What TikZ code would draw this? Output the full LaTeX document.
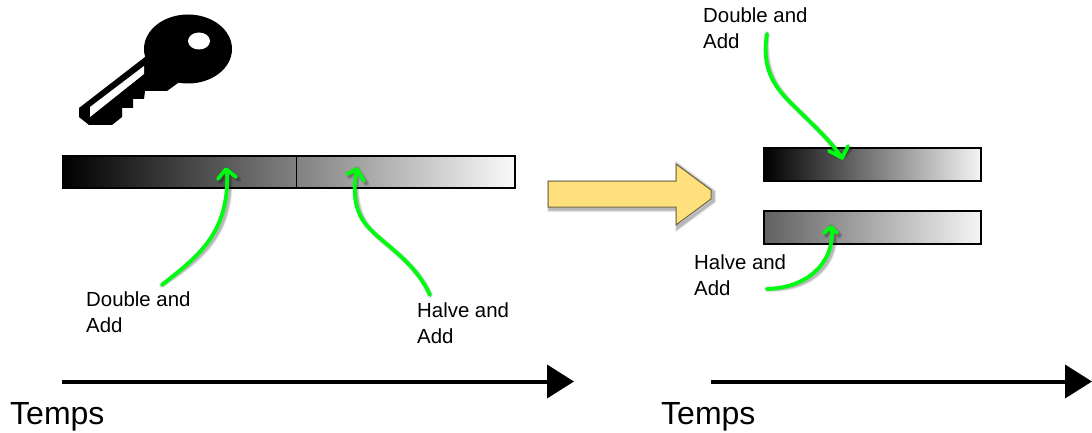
\documentclass[tikz,border=0pt]{standalone}
\usepackage{fontspec}
\setmainfont{Liberation Sans}
\usetikzlibrary{arrows.meta}
\definecolor{arrowyellow}{HTML}{FFE07C}
\definecolor{arrowedge}{HTML}{6B6440}
\definecolor{curvegreen}{HTML}{00FA10}
\newcommand{\softshadow}[2][]{%
  \foreach \w/\o in {6/0.07,4.5/0.10,3/0.14}{%
    \draw[black,opacity=\o,line width=\w pt,line cap=round,line join=round,shift={(2.5,2.5)},#1] #2;
  }%
}
\newcommand{\greencurve}[1]{%
  \softshadow{#1}%
  \draw[curve] #1;%
}
\tikzset{
  x=1pt,y=-1pt,
  curve/.style={draw=curvegreen,line width=3.8pt,line cap=round,line join=round},
  bar/.style={draw=black,line width=2.4pt,inner sep=0pt,outer sep=0pt,rectangle},
  label/.style={font=\fontsize{20.4}{26}\selectfont,align=left,anchor=north west,inner sep=0pt,text=black},
  tempslabel/.style={font=\fontsize{32}{38}\selectfont,anchor=base west,inner sep=0pt,text=black},
  timeline/.style={line width=4pt,black,-{Triangle[length=27pt,width=33pt]}},
}
\begin{document}
\begin{tikzpicture}
\useasboundingbox (0,0) rectangle (1092,433);

% key
\fill[black] (188,49) ellipse [x radius=44pt, y radius=34.5pt];
\fill[black] (145,57) -- (79,108) -- (79,117) -- (89,125) -- (112,125) -- (122,117) -- (122,108) -- (133,108) -- (133,99) -- (144,99) -- (145,91) -- (167,91) -- (178,83) -- (200,60) -- (160,40) -- cycle;
\fill[white] (199,41) ellipse [x radius=11pt, y radius=8.5pt];
\fill[white] (144,66) -- (144,74) -- (90,117) -- (90,107) -- cycle;

% bars
\node[bar,left color=black,right color=black!2,minimum width=452pt,minimum height=32pt] (longbar) at (289,172) {};
\draw[line width=1pt] (296,155) -- (296,188);
\node[bar,left color=black,right color=black!4,minimum width=217pt,minimum height=33pt] (topbar) at (872.5,164.5) {};
\node[bar,left color=black!62,right color=black!4,minimum width=217pt,minimum height=33pt] (lowbar) at (872.5,227.5) {};

% big arrow
\softshadow[line cap=butt,line join=miter,shift={(-0.5,-0.5)}]{(548,181) -- (676,181) -- (676,164) -- (711,190) -- (711,199) -- (676,225) -- (676,207) -- (548,207) -- cycle}
\filldraw[fill=arrowyellow,draw=arrowedge,line width=1pt] (548,181) -- (676,181) -- (676,164) -- (711,190) -- (711,199) -- (676,225) -- (676,207) -- (548,207) -- cycle;

% labels
\node[label] (dbl1) at (86,292) {Double and\\Add};
\node[label] (hlv1) at (417,303) {Halve and\\Add};
\node[label] (dbl2) at (703,8) {Double and\\Add};
\node[label] (hlv2) at (694,255) {Halve and\\Add};
\node[tempslabel] (temps1) at (10,424.5) {Temps};
\node[tempslabel] (temps2) at (661,424.5) {Temps};

% connector ends
\coordinate (a1s) at (162,285);
\coordinate (a1t) at (226,169);
\coordinate (a2s) at (430,295);
\coordinate (a2t) at (357,169);
\coordinate (a3s) at (767,34);
\coordinate (a3t) at (842,158);
\coordinate (a4s) at (767,289);
\coordinate (a4t) at (831,227);

% green curves
\greencurve{(a1s) .. controls (195,258) and (230,235) .. (227,171) (218,179) -- (a1t) -- (236,177)}
\greencurve{(a2s) .. controls (415,262) and (385,245) .. (370,229) .. controls (355,214) and (352,195) .. (a2t) (347,174) -- (a2t) -- (364,181)}
\greencurve{(a3s) .. controls (761,70) and (775,88) .. (795,107) .. controls (812,124) and (830,140) .. (a3t) (829,151) -- (a3t) -- (848,146)}
\greencurve{(a4s) .. controls (805,288) and (834,265) .. (832,229) (824,233) -- (a4t) -- (837,233)}

% time axes
\coordinate (t1a) at (62,381.5);
\coordinate (t1b) at (574,381.5);
\coordinate (t2a) at (711,381.5);
\coordinate (t2b) at (1092,381.5);
\draw[timeline] (t1a) -- (t1b);
\draw[timeline] (t2a) -- (t2b);
\end{tikzpicture}
\end{document}
